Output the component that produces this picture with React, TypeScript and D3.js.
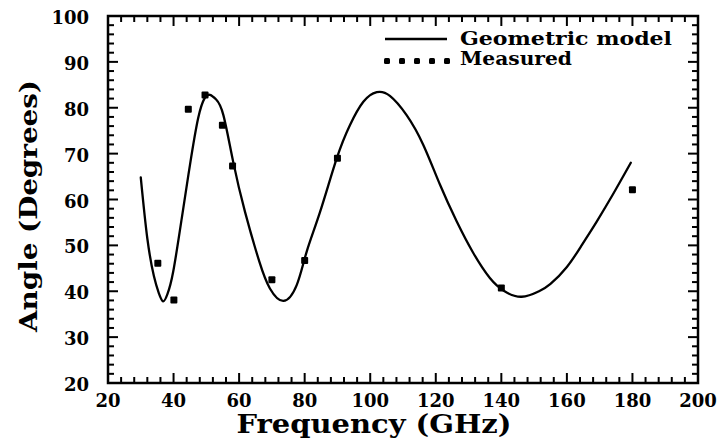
import React from "react";
import * as d3 from "d3";

const modelFreq = [30, 32, 34, 35.5, 36.8, 38.1, 39.9, 42.5, 45, 47.5, 49.5, 51.1, 53, 55.2, 58.2, 61.8, 66.2, 69.4, 73.5, 77.6, 80.6, 84.7, 89.8, 93.8, 97.9, 102, 106, 111.1, 116.2, 121.3, 126.4, 131.4, 136.5, 141, 146.2, 151.5, 155, 160, 164.5, 169.1, 174.2, 179.5];
const modelAngle = [64.8, 51.5, 43.3, 39.6, 37.8, 39.3, 44.3, 55.9, 67.5, 77.7, 82.1, 82.8, 81.8, 78.4, 68.2, 57.3, 46.4, 40.6, 37.9, 41.4, 48.6, 57.3, 69.0, 76.2, 81.3, 83.4, 82.6, 78.4, 71.9, 63.2, 55.2, 48.4, 42.9, 40.0, 38.8, 40.0, 41.6, 45.3, 50.0, 55.2, 61.3, 68];

const measFreq = [35.2, 40.1, 44.5, 49.6, 54.9, 58, 70, 80, 90, 140, 180];
const measAngle = [46.1, 38.1, 79.7, 82.8, 76.2, 67.3, 42.5, 46.7, 69.0, 40.7, 62.1];

const xTickValues = [20, 40, 60, 80, 100, 120, 140, 160, 180, 200];
const yTickValues = [20, 30, 40, 50, 60, 70, 80, 90, 100];

const legendLabels = ["Geometric  model", "Measured"];
const xTitle = "Frequency (GHz)";
const yTitle = "Angle (Degrees)";

export default function App() {
  const x = d3.scaleLinear().domain([20, 200]).range([108, 698]);
  const y = d3.scaleLinear().domain([20, 100]).range([383, 16]);
  const font = "'DejaVu Serif', serif";

  const line = d3
    .line<number>()
    .x((_, i) => x(modelFreq[i]))
    .y((d) => y(d))
    .curve(d3.curveNatural);

  const xMinor = d3.range(20, 200.1, 4);
  const yMinor = d3.range(20, 100.1, 2);
  const [x0, x1] = x.range();
  const [y0, y1] = y.range();
  const major = 10;
  const minor = 6;

  return (
    <svg
      width={725}
      height={445}
      style={{ position: "absolute", left: 0, top: 0, background: "#fff" }}
    >
      <rect x={0} y={0} width={725} height={445} fill="#fff" />
      <rect x={x0} y={y1} width={x1 - x0} height={y0 - y1} fill="none" stroke="#000" strokeWidth={2.5} />
      {xMinor.map((v) => {
        const isMaj = Math.abs(v % 20) < 1e-6;
        const len = isMaj ? major : minor;
        return (
          <g key={"xt" + v}>
            <line x1={x(v)} x2={x(v)} y1={y0} y2={y0 - len} stroke="#000" strokeWidth={2} />
            <line x1={x(v)} x2={x(v)} y1={y1} y2={y1 + len} stroke="#000" strokeWidth={2} />
          </g>
        );
      })}
      {yMinor.map((v) => {
        const isMaj = Math.abs(v % 10) < 1e-6;
        const len = isMaj ? major : minor;
        return (
          <g key={"yt" + v}>
            <line x1={x0} x2={x0 + len} y1={y(v)} y2={y(v)} stroke="#000" strokeWidth={2} />
            <line x1={x1} x2={x1 - len} y1={y(v)} y2={y(v)} stroke="#000" strokeWidth={2} />
          </g>
        );
      })}
      {xTickValues.map((v) => (
        <text key={"xl" + v} x={x(v)} y={407} textAnchor="middle" fontFamily={font} fontWeight="bold" fontSize={18}>
          {v}
        </text>
      ))}
      {yTickValues.map((v) => (
        <text key={"yl" + v} x={89} y={y(v) + 8} textAnchor="end" fontFamily={font} fontWeight="bold" fontSize={18}>
          {v}
        </text>
      ))}
      <text x={374} y={433} textAnchor="middle" fontFamily={font} fontWeight="bold" fontSize={26} textLength={275} lengthAdjust="spacingAndGlyphs">
        {xTitle}
      </text>
      <text
        transform={`translate(37, ${(80 + 332) / 2}) rotate(-90)`}
        textAnchor="middle"
        fontFamily={font}
        fontWeight="bold"
        fontSize={25}
        textLength={252}
        lengthAdjust="spacingAndGlyphs"
      >
        {yTitle}
      </text>
      <path d={line(modelAngle) || ""} fill="none" stroke="#000" strokeWidth={2.3} strokeLinejoin="round" strokeLinecap="round" />
      {measFreq.map((f, i) => (
        <rect key={"m" + i} x={x(f) - 3.5} y={y(measAngle[i]) - 3.5} width={7} height={7} rx={1} fill="#000" />
      ))}
      <line x1={385} x2={447} y1={39} y2={39} stroke="#000" strokeWidth={2.5} />
      <text x={460} y={45} fontFamily={font} fontWeight="bold" fontSize={18} textLength={212} lengthAdjust="spacingAndGlyphs">
        {legendLabels[0]}
      </text>
      {d3.range(5).map((k) => (
        <rect key={"ld" + k} x={384 + k * 15} y={58} width={6} height={6} rx={1.5} fill="#000" />
      ))}
      <text x={460} y={65} fontFamily={font} fontWeight="bold" fontSize={18} textLength={112} lengthAdjust="spacingAndGlyphs">
        {legendLabels[1]}
      </text>
    </svg>
  );
}
